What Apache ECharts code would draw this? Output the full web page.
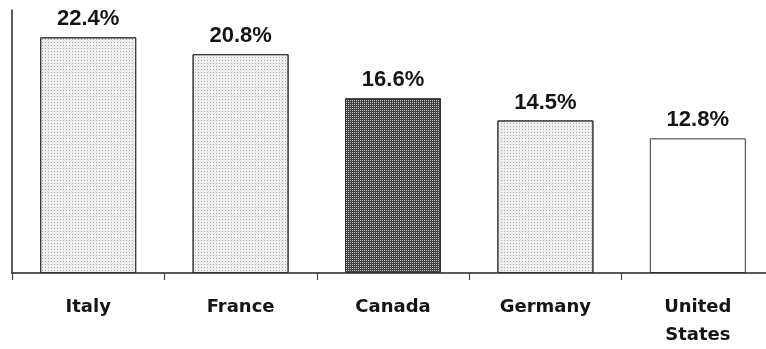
<!DOCTYPE html>
<html>
<head>
<meta charset="utf-8">
<script src="https://cdn.jsdelivr.net/npm/echarts@6/dist/echarts.min.js"></script>
<style>
  html, body { margin: 0; padding: 0; background: #fff; overflow: hidden; }
  /* the category axis runs on past the right edge of the window */
  #chart { width: 780px; height: 349px; }
</style>
</head>
<body>
<div id="chart"></div>
<script>
// Share by country (%)
const countries = ['Italy', 'France', 'Canada', 'Germany', 'United\nStates'];
const shares = [22.4, 20.8, 16.6, 14.5, 12.8];

// Fill styles: light stipple, dark stipple (highlighted country), plain white
const lightFill = {
  color: '#efefef',
  decal: { symbol: 'rect', symbolSize: 1, dashArrayX: [1, 2], dashArrayY: [1, 2], color: '#a8a8a8' }
};
const darkFill = {
  color: '#404040',
  decal: { symbol: 'rect', symbolSize: 1, dashArrayX: [1, 1], dashArrayY: [1, 1], color: '#c8c8c8' }
};
const plainFill = { color: '#ffffff' };
const fillFor = name => name === 'Canada' ? darkFill : (name.startsWith('United') ? plainFill : lightFill);

const chart = echarts.init(document.getElementById('chart'), null, { renderer: 'canvas' });
chart.setOption({
  animation: false,
  backgroundColor: '#ffffff',
  grid: { left: 12, top: 10, width: 762, height: 266, containLabel: false },
  xAxis: {
    type: 'category',
    data: countries,
    axisLine: { lineStyle: { color: '#222', width: 1.5 } },
    axisTick: { show: true, length: 7, lineStyle: { color: '#444', width: 1.2 } },
    axisLabel: {
      margin: 20,
      fontFamily: 'DejaVu Sans',
      fontWeight: 'bold',
      fontSize: 18,
      lineHeight: 28,
      color: '#151515'
    }
  },
  yAxis: {
    type: 'value',
    min: 0,
    max: 25,
    axisLine: { show: true, lineStyle: { color: '#222', width: 1.5 } },
    axisTick: { show: false },
    axisLabel: { show: false },
    splitLine: { show: false }
  },
  series: [{
    type: 'bar',
    barWidth: 96,
    data: shares.map((v, i) => {
      const f = fillFor(countries[i]);
      return {
        value: v,
        itemStyle: {
          color: f.color,
          decal: f.decal || null,
          borderColor: '#333',
          borderWidth: 1
        }
      };
    }),
    label: {
      show: true,
      position: 'top',
      distance: 7,
      formatter: p => p.value.toFixed(1) + '%',
      fontFamily: 'Arial, "Liberation Sans", sans-serif',
      fontWeight: 'bold',
      fontSize: 22,
      color: '#151515'
    }
  }]
});
</script>
</body>
</html>
